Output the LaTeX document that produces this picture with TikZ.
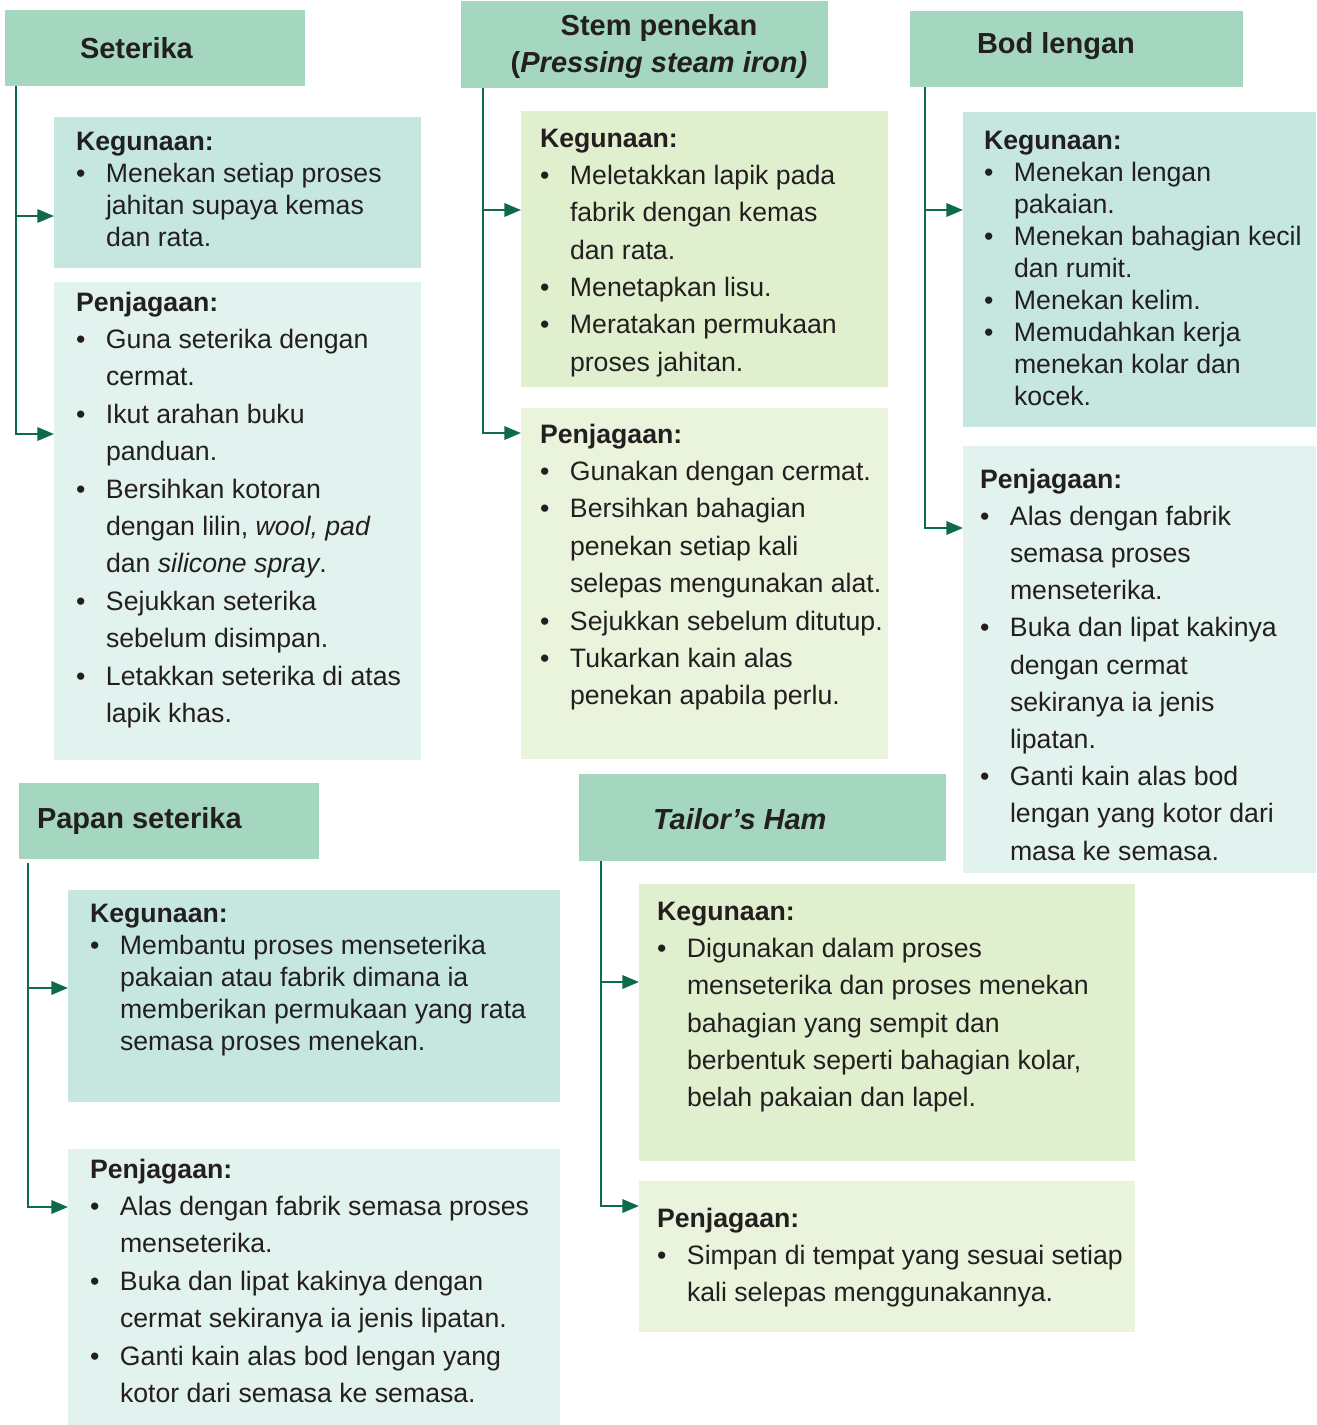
\documentclass[tikz,border=0pt]{standalone}
\usepackage{fontspec}
\setmainfont{Liberation Sans}
\usetikzlibrary{arrows.meta,calc,fit}
\definecolor{hdr}{RGB}{165,214,191}
\definecolor{tealK}{RGB}{198,231,223}
\definecolor{tealP}{RGB}{226,242,238}
\definecolor{grnK}{RGB}{224,239,205}
\definecolor{grnP}{RGB}{234,244,220}
\definecolor{conncol}{RGB}{14,106,79}
\definecolor{txt}{RGB}{35,31,32}
\newcommand\hd[1]{{\bfseries #1}\par}
\newcommand\bi[1]{\makebox[22.5pt][l]{•}#1\par}
\newcommand\ct[1]{\hspace*{22.5pt}#1\par}
\newcommand\blk[2]{\parbox[t]{420pt}{\fontsize{20}{#1}\selectfont #2}}
\begin{document}
\begin{tikzpicture}[x=0.75pt,y=-0.75pt,
  box/.style={inner sep=0pt,outer sep=0pt,draw=none},
  body/.style={inner sep=0pt,outer sep=0pt,anchor=base west,text=txt},
  title/.style={inner sep=0pt,outer sep=0pt,anchor=base west,text=txt,font=\fontsize{21.75}{26}\selectfont\bfseries},
  conn/.style={draw=conncol,line width=1.8pt,-{Triangle[length=12.5pt,width=10pt]}}]
\useasboundingbox (0,0) rectangle (1317,1425);

% ---------- boxes ----------
\node[box,fill=hdr,fit={(5,10) (305,86)}] (s0) {};
\node[box,fill=tealK,fit={(54,117) (421,268)}] (s1) {};
\node[box,fill=tealP,fit={(54,282) (421,760)}] (s2) {};

\node[box,fill=hdr,fit={(461,1) (828,88)}] (t0) {};
\node[box,fill=grnK,fit={(521,111) (888,387)}] (t1) {};
\node[box,fill=grnP,fit={(521,408) (888,759)}] (t2) {};

\node[box,fill=hdr,fit={(910,11) (1243,87)}] (b0) {};
\node[box,fill=tealK,fit={(963,112) (1316,427)}] (b1) {};
\node[box,fill=tealP,fit={(963,446) (1316,873)}] (b2) {};

\node[box,fill=hdr,fit={(19,783) (319,859)}] (p0) {};
\node[box,fill=tealK,fit={(68,890) (560,1102)}] (p1) {};
\node[box,fill=tealP,fit={(68,1149) (560,1425)}] (p2) {};

\node[box,fill=hdr,fit={(579,774) (946,861)}] (h0) {};
\node[box,fill=grnK,fit={(639,884) (1135,1161)}] (h1) {};
\node[box,fill=grnP,fit={(639,1181) (1135,1332)}] (h2) {};

% ---------- titles ----------
\node[title] (s0t) at (80,58) {Seterika};
\node[inner sep=0pt,anchor=base,text=txt] (t0t) at (659,35)
  {\parbox[t]{270pt}{\centering\fontsize{21.75}{28}\selectfont\bfseries Stem penekan\par
   (\textit{Pressing steam iron)}\par}};
\node[title] (b0t) at (977,53) {Bod lengan};
\node[title] (p0t) at (37,828) {Papan seterika};
\node[title] (h0t) at (653,829) {\itshape Tailor’s Ham};

% ---------- texts ----------
\node[body] (s1x) at (76,150) {\blk{24}{\hd{Kegunaan:}
  \bi{Menekan setiap proses}
  \ct{jahitan supaya kemas}
  \ct{dan rata.}}};
\node[body] (s2x) at (76,311) {\blk{28.05}{\hd{Penjagaan:}
  \bi{Guna seterika dengan}
  \ct{cermat.}
  \bi{Ikut arahan buku}
  \ct{panduan.}
  \bi{Bersihkan kotoran}
  \ct{dengan lilin, \textit{wool, pad}}
  \ct{dan \textit{silicone spray}.}
  \bi{Sejukkan seterika}
  \ct{sebelum disimpan.}
  \bi{Letakkan seterika di atas}
  \ct{lapik khas.}}};

\node[body] (t1x) at (540,147) {\blk{28}{\hd{Kegunaan:}
  \bi{Meletakkan lapik pada}
  \ct{fabrik dengan kemas}
  \ct{dan rata.}
  \bi{Menetapkan lisu.}
  \bi{Meratakan permukaan}
  \ct{proses jahitan.}}};
\node[body] (t2x) at (540,443) {\blk{28.05}{\hd{Penjagaan:}
  \bi{Gunakan dengan cermat.}
  \bi{Bersihkan bahagian}
  \ct{penekan setiap kali}
  \ct{selepas mengunakan alat.}
  \bi{Sejukkan sebelum ditutup.}
  \bi{Tukarkan kain alas}
  \ct{penekan apabila perlu.}}};

\node[body] (b1x) at (984,149) {\blk{24}{\hd{Kegunaan:}
  \bi{Menekan lengan}
  \ct{pakaian.}
  \bi{Menekan bahagian kecil}
  \ct{dan rumit.}
  \bi{Menekan kelim.}
  \bi{Memudahkan kerja}
  \ct{menekan kolar dan}
  \ct{kocek.}}};
\node[body] (b2x) at (980,488) {\blk{27.9}{\hd{Penjagaan:}
  \bi{Alas dengan fabrik}
  \ct{semasa proses}
  \ct{menseterika.}
  \bi{Buka dan lipat kakinya}
  \ct{dengan cermat}
  \ct{sekiranya ia jenis}
  \ct{lipatan.}
  \bi{Ganti kain alas bod}
  \ct{lengan yang kotor dari}
  \ct{masa ke semasa.}}};

\node[body] (p1x) at (90,922) {\blk{24}{\hd{Kegunaan:}
  \bi{Membantu proses menseterika}
  \ct{pakaian atau fabrik dimana ia}
  \ct{memberikan permukaan yang rata}
  \ct{semasa proses menekan.}}};
\node[body] (p2x) at (90,1178) {\blk{28.05}{\hd{Penjagaan:}
  \bi{Alas dengan fabrik semasa proses}
  \ct{menseterika.}
  \bi{Buka dan lipat kakinya dengan}
  \ct{cermat sekiranya ia jenis lipatan.}
  \bi{Ganti kain alas bod lengan yang}
  \ct{kotor dari semasa ke semasa.}}};

\node[body] (h1x) at (657,920) {\blk{28}{\hd{Kegunaan:}
  \bi{Digunakan dalam proses}
  \ct{menseterika dan proses menekan}
  \ct{bahagian yang sempit dan}
  \ct{berbentuk seperti bahagian kolar,}
  \ct{belah pakaian dan lapel.}}};
\node[body] (h2x) at (657,1227) {\blk{28}{\hd{Penjagaan:}
  \bi{Simpan di tempat yang sesuai setiap}
  \ct{kali selepas menggunakannya.}}};

% ---------- connectors ----------
\coordinate (sT) at ($(s0.south west)+(11,0)$);
\coordinate (s1a) at ($(s1.north west)+(0,99)$);
\coordinate (s2a) at ($(s2.north west)+(0,152)$);
\draw[conn] (sT) |- (s2a);
\draw[conn] (sT |- s1a) -- (s1a);

\coordinate (tT) at ($(t0.south west)+(22,0)$);
\coordinate (t1a) at ($(t1.north west)+(0,99)$);
\coordinate (t2a) at ($(t2.north west)+(0,25)$);
\draw[conn] (tT) |- (t2a);
\draw[conn] (tT |- t1a) -- (t1a);

\coordinate (bT) at ($(b0.south west)+(15,0)$);
\coordinate (b1a) at ($(b1.north west)+(0,98)$);
\coordinate (b2a) at ($(b2.north west)+(0,82)$);
\draw[conn] (bT) |- (b2a);
\draw[conn] (bT |- b1a) -- (b1a);

\coordinate (pT) at ($(p0.south west)+(9,4)$);
\coordinate (p1a) at ($(p1.north west)+(0,98)$);
\coordinate (p2a) at ($(p2.north west)+(0,58)$);
\draw[conn] (pT) |- (p2a);
\draw[conn] (pT |- p1a) -- (p1a);

\coordinate (hT) at ($(h0.south west)+(22,0)$);
\coordinate (h1a) at ($(h1.north west)+(0,98)$);
\coordinate (h2a) at ($(h2.north west)+(0,25)$);
\draw[conn] (hT) |- (h2a);
\draw[conn] (hT |- h1a) -- (h1a);
\end{tikzpicture}
\end{document}
